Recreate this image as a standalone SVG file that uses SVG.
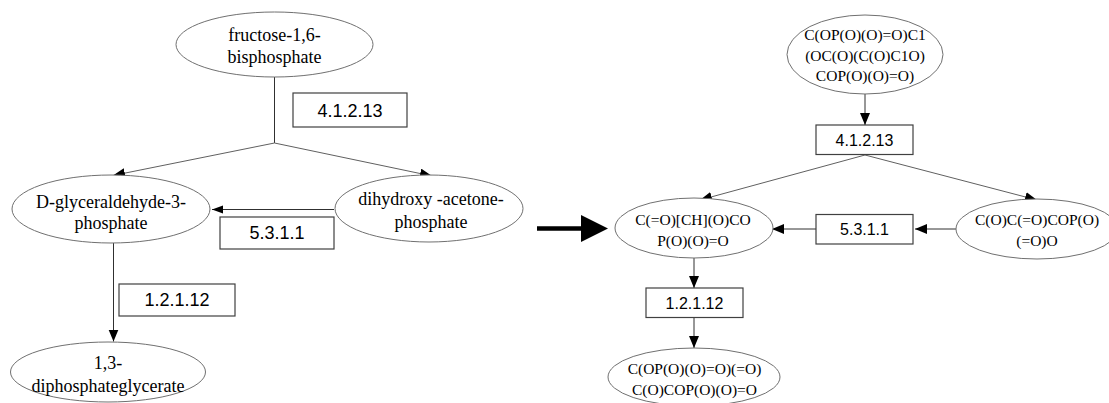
<svg xmlns="http://www.w3.org/2000/svg" width="1109" height="403" viewBox="0 0 1109 403">
<style>
.bg{fill:#ffffff}
.ell{fill:#ffffff;stroke:#707070;stroke-width:1}
.box{fill:#ffffff;stroke:#404040;stroke-width:1.2}
.tl{font-family:"Liberation Serif","Times New Roman",serif;font-size:18px;fill:#000;text-anchor:middle}
.tr{font-family:"Liberation Serif","Times New Roman",serif;font-size:15.5px;fill:#000;text-anchor:middle}
.bl{font-family:"Liberation Sans",Arial,sans-serif;font-size:18px;fill:#000;text-anchor:middle}
.br{font-family:"Liberation Sans",Arial,sans-serif;font-size:16px;fill:#000;text-anchor:middle}
.edge{fill:none;stroke:#303030;stroke-width:1}
.edgeg{fill:none;stroke:#606060;stroke-width:1}
</style>
<defs>
<marker id="ah" markerUnits="userSpaceOnUse" markerWidth="13" markerHeight="11" refX="12" refY="5" orient="auto">
<path d="M0,0 L12,5 L0,10 z" fill="#000"/>
</marker>
<marker id="ahs" markerUnits="userSpaceOnUse" markerWidth="12" markerHeight="9" refX="11" refY="4" orient="auto">
<path d="M0,0 L11,4 L0,8 z" fill="#000"/>
</marker>
</defs>
<rect class="bg" x="0" y="0" width="1109" height="403"/>

<g id="connectors">
<line class="edge" x1="274.5" y1="77" x2="274.5" y2="143"/>
<line class="edgeg" x1="274.5" y1="143" x2="113" y2="175.5" marker-end="url(#ah)"/>
<line class="edgeg" x1="274.5" y1="143" x2="432" y2="176" marker-end="url(#ah)"/>
<line class="edge" x1="334" y1="209.5" x2="212" y2="209.5" marker-end="url(#ahs)"/>
<line class="edge" x1="113.5" y1="243" x2="113.5" y2="341.5" marker-end="url(#ah)"/>
<line x1="537" y1="228.5" x2="583" y2="228.5" stroke="#000" stroke-width="4.5"/>
<polygon points="581,215 608,228.5 581,242" fill="#000"/>
<line class="edge" x1="865" y1="94" x2="865" y2="125" marker-end="url(#ah)"/>
<line class="edgeg" x1="865" y1="155" x2="700" y2="200" marker-end="url(#ah)"/>
<line class="edgeg" x1="865" y1="155" x2="1037" y2="200" marker-end="url(#ah)"/>
<line class="edge" x1="956" y1="229" x2="915" y2="229" marker-end="url(#ah)"/>
<line class="edge" x1="816" y1="229" x2="772" y2="229" marker-end="url(#ah)"/>
<line class="edge" x1="694" y1="258" x2="694" y2="288" marker-end="url(#ah)"/>
<line class="edge" x1="694" y1="318" x2="694" y2="348" marker-end="url(#ah)"/>
</g>

<g id="n_fructose">
<ellipse class="ell" cx="274.5" cy="44.5" rx="98.5" ry="32.5"/>
<text class="tl" x="274.5" y="40.5">fructose-1,6-</text>
<text class="tl" x="274.5" y="62.5">bisphosphate</text>
</g>
<g id="e_41213_left">
<rect class="box" x="293" y="93" width="114" height="34"/>
<text class="bl" x="350" y="116.5">4.1.2.13</text>
</g>
<g id="n_g3p">
<ellipse class="ell" cx="111" cy="209" rx="99" ry="34"/>
<text class="tl" x="111" y="207.5">D-glyceraldehyde-3-</text>
<text class="tl" x="111" y="229">phosphate</text>
</g>
<g id="n_dhap">
<ellipse class="ell" cx="429" cy="208.5" rx="94" ry="33.5"/>
<text class="tl" x="431" y="205">dihydroxy -acetone-</text>
<text class="tl" x="431" y="227.5">phosphate</text>
</g>
<g id="e_5311_left">
<rect class="box" x="220" y="217" width="114" height="32"/>
<text class="bl" x="277" y="238.5">5.3.1.1</text>
</g>
<g id="e_12112_left">
<rect class="box" x="119" y="284" width="116" height="32"/>
<text class="bl" x="177" y="305.5">1.2.1.12</text>
</g>
<g id="n_13dpg">
<ellipse class="ell" cx="108" cy="372" rx="97.5" ry="30"/>
<text class="tl" x="108" y="369">1,3-</text>
<text class="tl" x="108" y="392">diphosphateglycerate</text>
</g>

<g id="n_fbp_smiles">
<ellipse class="ell" cx="865" cy="54.5" rx="78" ry="39.5"/>
<text class="tr" x="865" y="40">C(OP(O)(O)=O)C1</text>
<text class="tr" x="865" y="60.5">(OC(O)(C(O)C1O)</text>
<text class="tr" x="865" y="80.5">COP(O)(O)=O)</text>
</g>
<g id="e_41213_right">
<rect class="box" x="816" y="125" width="97" height="29.5"/>
<text class="br" x="864.5" y="145.5">4.1.2.13</text>
</g>
<g id="n_g3p_smiles">
<ellipse class="ell" cx="694" cy="228" rx="79" ry="30"/>
<text class="tr" x="693" y="225">C(=O)[CH](O)CO</text>
<text class="tr" x="693" y="246">P(O)(O)=O</text>
</g>
<g id="e_5311_right">
<rect class="box" x="816" y="214.5" width="97" height="29.5"/>
<text class="br" x="864.5" y="235">5.3.1.1</text>
</g>
<g id="n_dhap_smiles">
<ellipse class="ell" cx="1037" cy="229" rx="81" ry="30"/>
<text class="tr" x="1037" y="225">C(O)C(=O)COP(O)</text>
<text class="tr" x="1037" y="246">(=O)O</text>
</g>
<g id="e_12112_right">
<rect class="box" x="646" y="288" width="97" height="29.5"/>
<text class="br" x="694.5" y="309">1.2.1.12</text>
</g>
<g id="n_13dpg_smiles">
<ellipse class="ell" cx="694" cy="377" rx="86" ry="29"/>
<text class="tr" x="694.5" y="374">C(OP(O)(O)=O)(=O)</text>
<text class="tr" x="694.5" y="394.5">C(O)COP(O)(O)=O</text>
</g>
</svg>
